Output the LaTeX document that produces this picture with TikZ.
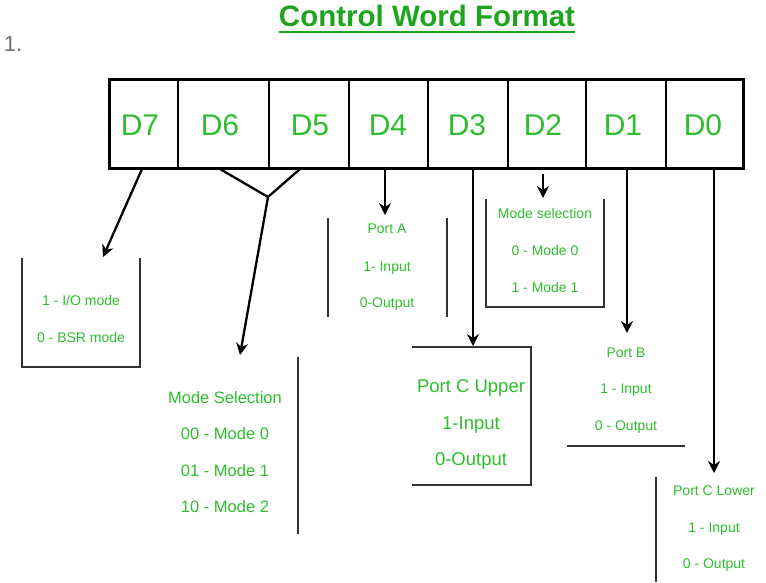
\documentclass[tikz,border=0pt]{standalone}
\usepackage{fontspec}
\setmainfont{Liberation Sans}
\usetikzlibrary{arrows.meta}
\definecolor{titlegreen}{RGB}{30,165,30}
\definecolor{labgreen}{RGB}{45,190,45}
\begin{document}
\begin{tikzpicture}[x=1pt,y=-1pt,
  every node/.style={inner sep=0pt,outer sep=0pt},
  bitlab/.style={text=labgreen,anchor=base,font=\fontsize{30}{33}\selectfont},
  smalltxt/.style={text=labgreen,anchor=base,font=\fontsize{14}{16}\selectfont},
  midtxt/.style={text=labgreen,anchor=base,font=\fontsize{16.5}{19}\selectfont},
  bigtxt/.style={text=labgreen,anchor=base,font=\fontsize{18.5}{21}\selectfont},
  regline/.style={line width=3pt,black},
  conn/.style={line width=2.3pt,black},
  arr/.style={conn,-{Stealth[length=12pt,width=12pt,inset=4pt]}},
  frame/.style={line width=1.4pt,black!80}]
\useasboundingbox (0,0) rectangle (766,582);

% heading
\node[anchor=base west,text=black!55,font=\fontsize{22}{24}\selectfont] (num) at (4,51) {1.};
\node[anchor=base,text=titlegreen,font=\fontsize{29.5}{32}\selectfont\bfseries] (title) at (427,26) {Control Word Format};
\draw[titlegreen,line width=2pt] ([yshift=-6pt]title.base west) -- ([yshift=-6pt]title.base east);

% register
\draw[regline] (109,79) rectangle (743,168);
\foreach \xx in {178,269,349,428,508,586,666}
  \draw[line width=2.2pt] (\xx,79) -- (\xx,168);
\node[bitlab] (d7) at (140,135) {D7};
\node[bitlab] (d6) at (220,135) {D6};
\node[bitlab] (d5) at (310,135) {D5};
\node[bitlab] (d4) at (388,135) {D4};
\node[bitlab] (d3) at (467,135) {D3};
\node[bitlab] (d2) at (543,135) {D2};
\node[bitlab] (d1) at (623,135) {D1};
\node[bitlab] (d0) at (703,135) {D0};

% connector end points
\coordinate (s7) at (142,169);
\coordinate (t7) at (103,257);
\coordinate (s6) at (220,169);
\coordinate (s5) at (300,169);
\coordinate (v65) at (268,197);
\coordinate (t65) at (240,355);
\coordinate (s4) at (385,169);
\coordinate (t4) at (385,215);
\coordinate (s3) at (473,169);
\coordinate (t3) at (473,346);
\coordinate (s2) at (543,174);
\coordinate (t2) at (543,198);
\coordinate (s1) at (627,169);
\coordinate (t1) at (627,333);
\coordinate (s0) at (714,169);
\coordinate (t0) at (714,473);

\draw[arr] (s7) -- (t7);
\draw[conn,line join=round] (s6) -- (v65) -- (s5);
\draw[arr] (v65) -- (t65);
\draw[arr] (s4) -- (t4);
\draw[arr] (s3) -- (t3);
\draw[arr] (s2) -- (t2);
\draw[arr] (s1) -- (t1);
\draw[arr] (s0) -- (t0);

% D7 box
\draw[frame] (22,258) -- (22,367) -- (140,367) -- (140,258);
\node[smalltxt] (io1) at (81,305) {1 - I/O mode};
\node[smalltxt] (io2) at (81,342) {0 - BSR mode};

% D6 D5 mode selection
\draw[frame] (298,357) -- (298,534);
\node[midtxt] (ms1) at (225,403) {Mode Selection};
\node[midtxt] (ms2) at (225,439) {00 - Mode 0};
\node[midtxt] (ms3) at (225,476) {01 - Mode 1};
\node[midtxt] (ms4) at (225,512) {10 - Mode 2};

% Port A
\draw[frame] (328,218) -- (328,317);
\draw[frame] (447,218) -- (447,317);
\node[smalltxt] (pa1) at (387,233) {Port A};
\node[smalltxt] (pa2) at (387,271) {1- Input};
\node[smalltxt] (pa3) at (387,307) {0-Output};

% Port C Upper
\draw[frame] (412,347) -- (531,347) -- (531,485) -- (412,485);
\node[bigtxt] (pcu1) at (471,392) {Port C Upper};
\node[bigtxt] (pcu2) at (471,429) {1-Input};
\node[bigtxt] (pcu3) at (471,465) {0-Output};

% D2 mode selection
\draw[frame] (486,199) -- (486,307) -- (604,307) -- (604,199);
\node[smalltxt] (m21) at (545,218) {Mode selection};
\node[smalltxt] (m22) at (545,255) {0 - Mode 0};
\node[smalltxt] (m23) at (545,292) {1 - Mode 1};

% Port B
\draw[frame] (567,446) -- (685,446);
\node[smalltxt] (pb1) at (626,357) {Port B};
\node[smalltxt] (pb2) at (626,393) {1 - Input};
\node[smalltxt] (pb3) at (626,430) {0 - Output};

% Port C Lower
\draw[frame] (656,477) -- (656,582);
\node[smalltxt] (pcl1) at (714,495) {Port C Lower};
\node[smalltxt] (pcl2) at (714,532) {1 - Input};
\node[smalltxt] (pcl3) at (714,568) {0 - Output};
\end{tikzpicture}
\end{document}
